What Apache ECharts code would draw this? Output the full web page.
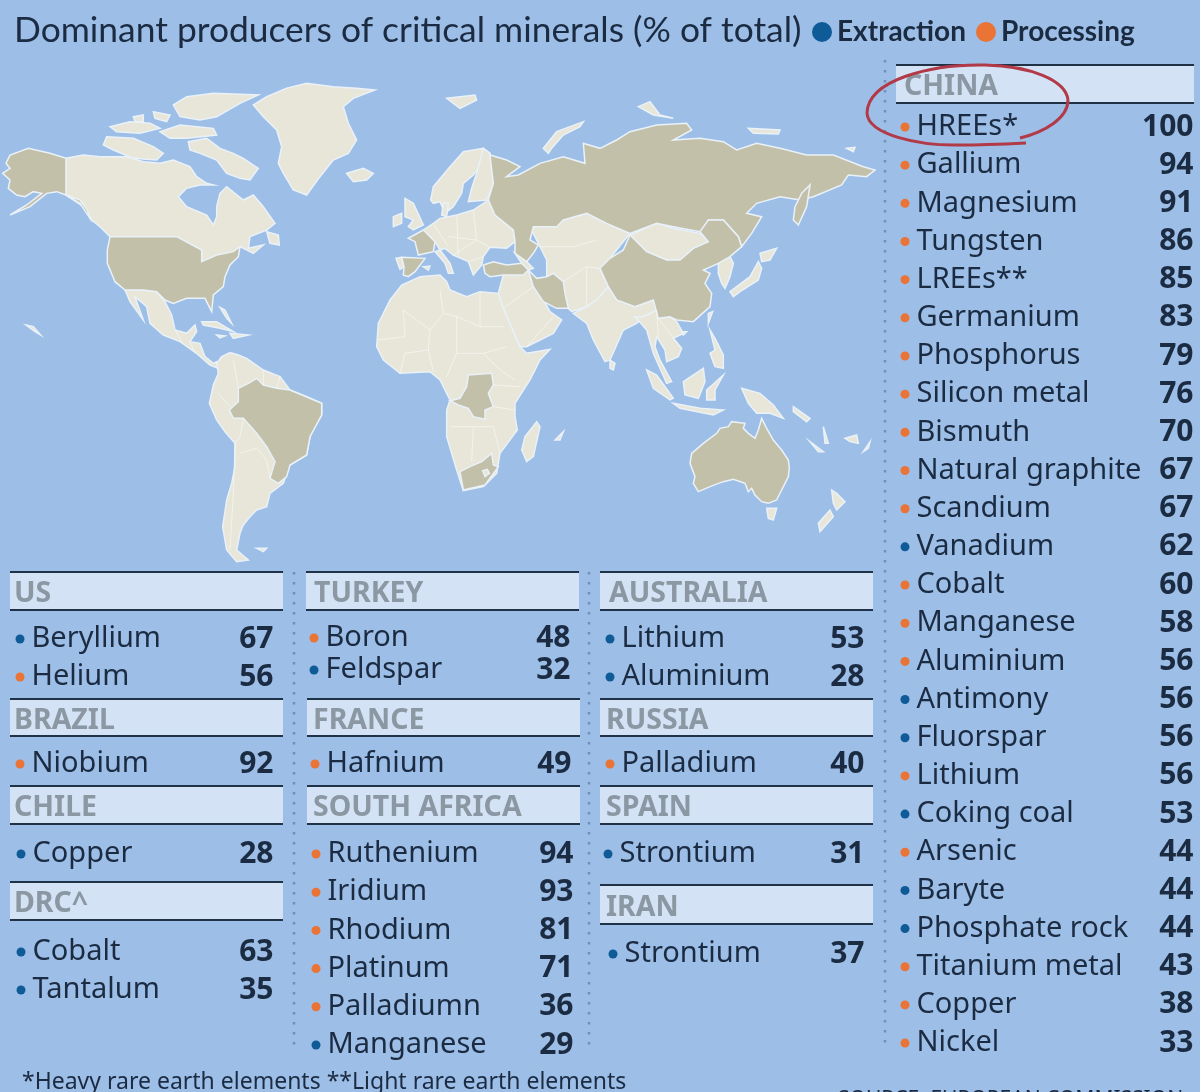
<!DOCTYPE html>
<html>
<head>
<meta charset="utf-8">
<title>Dominant producers of critical minerals</title>
<style>
html,body{margin:0;padding:0;background:#9dbee6;}
#chart{width:1200px;height:1092px;}
</style>
<script src="https://cdn.jsdelivr.net/npm/echarts@6/dist/echarts.min.js"></script>
</head>
<body>
<div id="chart"></div>
<script>
// table data: E = extraction, P = processing
var chinaMinerals=['HREEs*','Gallium','Magnesium','Tungsten','LREEs**','Germanium','Phosphorus','Silicon metal','Bismuth','Natural graphite','Scandium','Vanadium','Cobalt','Manganese','Aluminium','Antimony','Fluorspar','Lithium','Coking coal','Arsenic','Baryte','Phosphate rock','Titanium metal','Copper','Nickel'];
var chinaValues=[100,94,91,86,85,83,79,76,70,67,67,62,60,58,56,56,56,56,53,44,44,44,43,38,33];
var chinaStages=['P','P','P','P','P','P','P','P','P','P','P','E','P','P','P','E','E','P','E','P','E','E','P','P','P'];
var usMinerals=['Beryllium','Helium'];
var usValues=[67,56];
var usStages=['E','P'];
var brazilMinerals=['Niobium'];
var brazilValues=[92];
var brazilStages=['P'];
var chileMinerals=['Copper'];
var chileValues=[28];
var chileStages=['E'];
var drcMinerals=['Cobalt','Tantalum'];
var drcValues=[63,35];
var drcStages=['E','E'];
var turkeyMinerals=['Boron','Feldspar'];
var turkeyValues=[48,32];
var turkeyStages=['P','E'];
var franceMinerals=['Hafnium'];
var franceValues=[49];
var franceStages=['P'];
var southAfricaMinerals=['Ruthenium','Iridium','Rhodium','Platinum','Palladiumn','Manganese'];
var southAfricaValues=[94,93,81,71,36,29];
var southAfricaStages=['P','P','P','P','P','E'];
var australiaMinerals=['Lithium','Aluminium'];
var australiaValues=[53,28];
var australiaStages=['E','E'];
var russiaMinerals=['Palladium'];
var russiaValues=[40];
var russiaStages=['P'];
var spainMinerals=['Strontium'];
var spainValues=[31];
var spainStages=['E'];
var iranMinerals=['Strontium'];
var iranValues=[37];
var iranStages=['E'];

// map outlines (map units, 3 per pixel)
var producerLand={
    'Alaska':[[198,295],[150,280],[85,265],[30,285],[18,310],[30,325],[8,340],[30,360],[25,385],[50,405],[75,410],[100,395],[125,400],[80,435],[30,465],[90,440],[140,400],[170,395],[198,405],[240,430],[270,475],[262,450],[240,420],[198,405]],
    'United States':[[330,530],[530,530],[605,570],[605,605],[650,585],[700,575],[720,560],[715,590],[690,615],[675,650],[670,680],[640,705],[635,755],[615,715],[560,715],[520,730],[495,720],[470,695],[430,690],[375,690],[345,665],[322,610],[322,570]],
    'Brazil':[[715,985],[745,970],[770,955],[790,975],[830,985],[870,990],[965,1030],[965,1065],[930,1130],[920,1185],[870,1215],[860,1250],[835,1270],[810,1255],[825,1205],[800,1160],[770,1120],[730,1075],[700,1075],[688,1050],[715,1025]],
    'France':[[1270,510],[1305,545],[1300,575],[1255,585],[1245,545],[1225,535]],
    'Spain':[[1205,592],[1275,595],[1245,635],[1225,650],[1210,645],[1212,620]],
    'DRC':[[1405,945],[1475,940],[1480,975],[1465,1000],[1480,1040],[1455,1050],[1455,1078],[1420,1070],[1405,1045],[1375,1035],[1350,1022],[1380,1015],[1400,980]],
    'South Africa':[[1380,1235],[1410,1220],[1445,1205],[1475,1180],[1480,1215],[1495,1220],[1455,1275],[1390,1290]],
    'Turkey':[[1450,615],[1480,605],[1520,615],[1565,610],[1585,630],[1570,645],[1510,645],[1470,650],[1455,640]],
    'Russia':[[1470,285],[1520,300],[1560,320],[1520,350],[1555,345],[1620,310],[1690,290],[1755,310],[1750,250],[1800,265],[1850,240],[1890,215],[1970,195],[2060,190],[2075,210],[2020,240],[2100,235],[2170,245],[2210,270],[2270,250],[2340,265],[2420,285],[2500,285],[2590,320],[2625,330],[2600,350],[2545,345],[2525,375],[2440,410],[2400,420],[2340,410],[2270,430],[2240,460],[2285,470],[2255,520],[2225,560],[2215,530],[2170,480],[2125,480],[2120,520],[2100,515],[2020,500],[1970,490],[1890,520],[1820,490],[1760,460],[1690,480],[1670,500],[1600,500],[1590,540],[1615,555],[1600,580],[1580,605],[1545,580],[1545,545],[1540,510],[1485,465],[1465,420],[1480,370]],
    'Sakhalin':[[2405,400],[2430,375],[2420,440],[2395,495],[2380,480],[2385,440]],
    'Iran':[[1585,630],[1610,655],[1640,650],[1660,640],[1690,665],[1695,700],[1705,745],[1670,745],[1630,725],[1600,680]],
    'China':[[1890,525],[1940,575],[2000,600],[2040,600],[2080,565],[2125,545],[2100,515],[2125,480],[2170,480],[2215,530],[2225,560],[2190,590],[2155,610],[2110,630],[2130,640],[2115,670],[2135,700],[2130,740],[2080,785],[2030,780],[2010,770],[1975,775],[1960,720],[1905,740],[1850,720],[1825,680],[1800,625],[1830,595],[1870,570]],
    'Australia':[[2075,1180],[2110,1150],[2150,1120],[2160,1105],[2185,1100],[2195,1085],[2235,1090],[2230,1105],[2245,1120],[2265,1135],[2275,1110],[2285,1075],[2300,1105],[2320,1140],[2345,1170],[2365,1200],[2368,1225],[2365,1250],[2345,1290],[2330,1320],[2305,1330],[2285,1325],[2265,1305],[2255,1285],[2245,1295],[2235,1270],[2200,1258],[2170,1265],[2130,1280],[2095,1295],[2080,1270],[2085,1250],[2070,1210]]
};
var otherLand={
    'Canada':[[198,295],[250,285],[300,290],[380,290],[430,305],[480,310],[520,300],[570,320],[590,350],[620,370],[640,375],[600,375],[560,385],[535,410],[560,440],[620,465],[640,495],[650,470],[650,440],[660,400],[680,380],[730,420],[760,405],[790,440],[825,490],[800,510],[750,530],[745,565],[790,555],[760,580],[720,560],[690,590],[650,585],[605,605],[605,570],[530,530],[330,530],[300,500],[275,480],[250,440],[198,405]],
    'Baffin':[[565,245],[620,235],[660,265],[700,280],[730,295],[775,325],[750,360],[720,355],[680,340],[650,300],[600,280],[570,270]],
    'Victoria':[[320,230],[400,235],[460,260],[490,280],[470,300],[400,295],[340,270],[310,255]],
    'Ellesmere':[[520,135],[560,110],[640,100],[775,105],[720,130],[650,170],[600,180],[540,170]],
    'Banks':[[330,200],[390,185],[450,190],[480,205],[420,220],[350,215]],
    'Devon':[[480,215],[540,195],[640,205],[650,225],[560,235],[510,235]],
    'Melville':[[400,170],[430,165],[430,185],[405,185]],
    'Parry':[[460,155],[510,165],[500,185],[465,175]],
    'Newfoundland':[[800,515],[835,525],[838,555],[810,550]],
    'Greenland':[[760,135],[800,110],[860,85],[920,70],[1000,80],[1070,85],[1125,90],[1060,115],[1030,140],[1045,190],[1070,240],[1045,280],[1000,300],[960,350],[920,405],[880,390],[850,340],[835,310],[845,260],[830,210],[790,170]],
    'Iceland':[[1040,340],[1090,325],[1120,340],[1100,360],[1060,365]],
    'Mexico':[[375,690],[430,690],[470,695],[495,725],[515,765],[525,810],[560,820],[585,795],[590,815],[570,845],[600,850],[615,890],[640,910],[650,905],[655,925],[630,915],[590,880],[540,845],[490,825],[450,790],[440,740],[405,710],[430,780],[390,725]],
    'Cuba':[[605,785],[650,785],[700,815],[660,805],[610,795]],
    'Hispaniola':[[690,820],[745,825],[700,835]],
    'Jamaica':[[650,825],[675,828],[660,834]],
    'Bahamas':[[660,742],[675,750],[695,790],[680,775]],
    'Hawaii':[[78,795],[100,800],[122,825],[105,815]],
    'South America':[[650,910],[665,890],[690,878],[715,885],[740,895],[790,930],[840,950],[870,990],[920,1010],[965,1030],[965,1065],[945,1100],[930,1130],[920,1185],[870,1215],[850,1270],[810,1300],[800,1340],[770,1350],[750,1370],[730,1395],[720,1420],[710,1470],[745,1500],[710,1505],[680,1470],[668,1400],[680,1320],[695,1270],[705,1220],[705,1150],[675,1115],[650,1080],[628,1030],[640,975],[655,940]],
    'Falklands':[[770,1465],[800,1465],[790,1475]],
    'Africa':[[1170,720],[1205,675],[1260,650],[1320,645],[1340,665],[1350,690],[1400,710],[1440,695],[1495,700],[1510,740],[1560,860],[1580,880],[1650,868],[1620,900],[1590,960],[1545,1030],[1545,1070],[1552,1110],[1500,1180],[1490,1240],[1450,1280],[1390,1292],[1370,1230],[1340,1130],[1340,1050],[1350,1020],[1340,1000],[1320,960],[1290,935],[1200,940],[1150,900],[1130,860],[1135,790]],
    'Madagascar':[[1610,1085],[1620,1100],[1600,1190],[1580,1205],[1565,1170],[1575,1130]],
    'Portugal':[[1188,595],[1205,592],[1212,620],[1200,628]],
    'Britain':[[1215,415],[1240,430],[1270,495],[1240,510],[1225,500],[1240,480],[1215,470]],
    'Ireland':[[1180,470],[1205,460],[1205,490],[1180,500]],
    'Scandinavia':[[1292,420],[1300,380],[1350,320],[1390,275],[1450,265],[1470,280],[1420,345],[1390,370],[1385,400],[1360,440],[1335,460],[1320,425],[1300,430]],
    'Finland':[[1450,265],[1470,280],[1480,375],[1460,420],[1405,425],[1415,385],[1430,340]],
    'Denmark':[[1330,430],[1345,430],[1340,470],[1325,465]],
    'Europe':[[1270,510],[1300,490],[1320,475],[1370,465],[1420,450],[1465,420],[1485,465],[1540,510],[1545,545],[1520,565],[1470,562],[1450,590],[1445,615],[1420,645],[1405,605],[1360,585],[1335,565],[1320,570],[1305,545]],
    'Italy':[[1305,575],[1320,570],[1350,610],[1360,640],[1345,640],[1335,610]],
    'Sardinia':[[1270,620],[1290,618],[1285,630]],
    'Caucasus':[[1545,580],[1580,605],[1600,625],[1585,630],[1565,610]],
    'Central Asia':[[1592,505],[1690,480],[1760,460],[1820,490],[1890,520],[1830,595],[1800,625],[1825,680],[1790,720],[1760,740],[1715,755],[1705,745],[1695,700],[1690,665],[1660,640],[1640,650],[1640,600],[1620,560]],
    'Mongolia':[[1890,525],[1970,490],[2020,505],[2100,520],[2125,545],[2080,565],[2040,600],[2000,600],[1940,575]],
    'Arabia':[[1510,645],[1585,630],[1600,680],[1630,720],[1650,755],[1685,780],[1660,820],[1580,860],[1560,860],[1510,745],[1495,700]],
    'India':[[1760,740],[1790,720],[1825,680],[1850,720],[1905,740],[1960,720],[1970,750],[1930,770],[1910,790],[1870,810],[1830,900],[1815,905],[1780,840],[1760,790],[1720,760]],
    'Sri Lanka':[[1830,900],[1845,910],[1840,930],[1830,925]],
    'Indochina':[[1905,770],[1930,770],[1970,750],[1975,775],[2010,770],[2030,785],[2050,820],[2020,835],[2045,865],[2035,890],[2000,905],[1995,870],[1970,830],[1965,860],[1980,900],[2015,965],[2000,970],[1960,880],[1940,810]],
    'Korea':[[2155,610],[2190,590],[2200,610],[2190,650],[2175,685],[2165,670],[2155,640]],
    'Honshu':[[2190,695],[2250,650],[2275,605],[2285,625],[2275,660],[2220,695],[2200,710]],
    'Hokkaido':[[2280,580],[2330,565],[2310,600],[2285,605]],
    'Taiwan':[[2125,760],[2138,755],[2125,790]],
    'Hainan':[[2045,815],[2060,815],[2050,825]],
    'Philippines':[[2130,810],[2145,835],[2170,885],[2170,925],[2145,920],[2130,880],[2145,870]],
    'Borneo':[[2050,965],[2110,925],[2115,965],[2095,1015],[2055,1005]],
    'Sumatra':[[1940,930],[1970,945],[2020,1015],[2010,1020],[1960,985]],
    'Java':[[2020,1030],[2100,1045],[2170,1050],[2140,1065],[2040,1045]],
    'Sulawesi':[[2120,990],[2170,945],[2145,990],[2145,1020],[2120,1020]],
    'New Guinea':[[2225,985],[2280,1000],[2320,1035],[2350,1075],[2310,1060],[2270,1060],[2245,1030]],
    'Solomon':[[2380,1040],[2430,1075],[2420,1085],[2380,1055]],
    'Vanuatu':[[2470,1100],[2485,1150],[2475,1150]],
    'New Caledonia':[[2430,1145],[2470,1175],[2455,1175]],
    'Fiji':[[2535,1135],[2570,1125],[2575,1150],[2550,1145]],
    'Tonga':[[2590,1175],[2610,1145],[2605,1165]],
    'Mauritius':[[1665,1140],[1690,1115],[1680,1140]],
    'Tasmania':[[2300,1345],[2330,1345],[2320,1380],[2305,1375]],
    'NZ North':[[2495,1290],[2510,1300],[2535,1325],[2510,1350],[2500,1330]],
    'NZ South':[[2490,1350],[2500,1370],[2460,1415],[2455,1390]],
    'Novaya Zemlya':[[1630,265],[1670,215],[1750,185],[1740,200],[1690,225],[1655,265],[1645,280]],
    'Svalbard':[[1340,115],[1425,105],[1430,120],[1380,145]],
    'Severnaya':[[1915,140],[1950,125],[1980,165],[2020,175],[1960,165]],
    'New Siberian':[[2245,205],[2340,210],[2335,222],[2260,220]],
    'Wrangel':[[2540,265],[2565,262],[2560,275]]
};
var enclaveLand={
    'Lesotho':[[1448,1232],[1462,1228],[1468,1240],[1455,1250]]
};
var borderLines=[
    [[655,1000],[690,1040]],[[730,1075],[720,1130],[705,1150]],[[705,1150],[700,1300],[690,1470]],[[720,1180],[770,1165],[800,1200],[810,1255]],[[790,975],[790,930]],[[830,985],[840,950]],[[700,900],[715,985]],
    [[525,810],[545,845]],[[570,845],[585,880]],
    [[1210,750],[1290,810],[1330,760],[1320,690]],[[1210,750],[1215,830],[1135,840]],[[1290,810],[1285,870],[1215,880],[1200,940]],[[1285,870],[1300,935]],[[1440,695],[1440,800]],[[1370,770],[1370,880],[1340,950]],[[1330,760],[1370,770],[1440,800],[1510,800]],[[1370,880],[1450,880],[1520,860]],[[1450,880],[1500,930],[1545,960]],[[1480,975],[1560,980]],[[1480,1040],[1545,1050]],[[1350,1100],[1480,1100]],[[1420,1100],[1415,1205]],[[1480,1100],[1500,1180]],
    [[1300,490],[1345,560]],[[1370,465],[1375,585]],[[1420,450],[1430,540],[1470,562]],[[1345,530],[1430,540]],[[1405,605],[1450,590]],[[1360,585],[1430,540]],
    [[1690,665],[1760,620],[1800,625]],[[1620,560],[1720,560],[1790,540]],[[1760,620],[1760,740]],[[1510,745],[1600,680]],[[1580,860],[1660,770]],
    [[1970,750],[1975,830]],[[1975,775],[2040,860]]
];
var producerNames=Object.keys(producerLand);

var STAGE_NAME={E:'Extraction',P:'Processing'};
var STAGE_COLOR={E:'#0f5b98',P:'#ea7336'};
var TEXT_FONT='"Noto Sans"';
var TITLE_FONT='Lato';

// where each panel sits on the page
var panels=[
    {name:'US',minerals:usMinerals,values:usValues,stages:usStages,band:[10,572,283,610],head:14,dot:20,right:274,first:639,pitch:38},
    {name:'BRAZIL',minerals:brazilMinerals,values:brazilValues,stages:brazilStages,band:[10,699,283,736],head:14,dot:20,right:274,first:764,pitch:38},
    {name:'CHILE',minerals:chileMinerals,values:chileValues,stages:chileStages,band:[10,786,283,824],head:14,dot:21,right:274,first:854,pitch:38},
    {name:'DRC^',minerals:drcMinerals,values:drcValues,stages:drcStages,band:[10,882,283,920],head:14,dot:21,right:274,first:952,pitch:38},
    {name:'TURKEY',minerals:turkeyMinerals,values:turkeyValues,stages:turkeyStages,band:[306,572,579,610],head:314,dot:314,right:571,first:638,pitch:32},
    {name:'FRANCE',minerals:franceMinerals,values:franceValues,stages:franceStages,band:[307,699,580,736],head:313,dot:315,right:572,first:764,pitch:38},
    {name:'SOUTH AFRICA',minerals:southAfricaMinerals,values:southAfricaValues,stages:southAfricaStages,band:[307,786,580,824],head:313,dot:316,right:574,first:854,pitch:38.2},
    {name:'AUSTRALIA',minerals:australiaMinerals,values:australiaValues,stages:australiaStages,band:[600,572,873,610],head:609,dot:610,right:865,first:639,pitch:38},
    {name:'RUSSIA',minerals:russiaMinerals,values:russiaValues,stages:russiaStages,band:[600,699,873,736],head:606,dot:610,right:865,first:764,pitch:38},
    {name:'SPAIN',minerals:spainMinerals,values:spainValues,stages:spainStages,band:[600,786,873,824],head:606,dot:608,right:865,first:854,pitch:38},
    {name:'IRAN',minerals:iranMinerals,values:iranValues,stages:iranStages,band:[600,885,873,924],head:606,dot:613,right:865,first:954,pitch:38},
    {name:'CHINA',minerals:chinaMinerals,values:chinaValues,stages:chinaStages,band:[896,65,1194,103],head:904,dot:905,right:1194,first:127,pitch:38.17}
];

// red hand drawn ring round China's first row
var ringCurves=[
    [1020,138,1045,132,1068,118,1068,100],
    [1068,100,1066,80,1030,66,985,65],
    [985,65,930,64,868,80,867,113],
    [867,113,868,135,920,146,960,145],
    [960,145,980,145,1005,144,1026,143]
];

//把轮廓转成geojson
function buildGeoJson(){
    var features=[];
    var groups=[otherLand,producerLand,enclaveLand];
    groups.forEach(function(group){
        Object.keys(group).forEach(function(name){
            features.push({type:'Feature',properties:{name:name},geometry:{type:'Polygon',coordinates:[group[name].concat([group[name][0]])]}});
        });
    });
    return {type:'FeatureCollection',features:features};
}

var mychart=echarts.init(document.getElementById('chart'));
echarts.registerMap('world',buildGeoJson());

var grids=[],xAxes=[],yAxes=[],series=[],graphics=[];

//地图上的国界线
series.push({
    type:'lines',
    coordinateSystem:'geo',
    geoIndex:0,
    polyline:true,
    silent:true,
    z:3,
    lineStyle:{color:'#f3f4ee',width:1,opacity:0.9},
    data:borderLines.map(function(line){return {coords:line};})
});

panels.forEach(function(panel,index){
    var band=panel.band;
    grids.push({left:panel.dot,width:panel.right-panel.dot,top:panel.first-panel.pitch/2,height:panel.pitch*panel.minerals.length,show:false});
    xAxes.push({type:'value',gridIndex:index,min:0,max:1,show:false});
    yAxes.push({type:'category',gridIndex:index,inverse:true,show:false,data:panel.minerals});

    ['E','P'].forEach(function(stage){
        var rows=[];
        panel.minerals.forEach(function(mineral,i){
            if(panel.stages[i]==stage){
                rows.push({value:[0,mineral],name:mineral});
            }
        });
        series.push({
            name:STAGE_NAME[stage],
            type:'scatter',
            xAxisIndex:index,
            yAxisIndex:index,
            symbol:'circle',
            symbolSize:9,
            silent:true,
            itemStyle:{color:STAGE_COLOR[stage],opacity:1},
            label:{show:true,position:'right',distance:7,formatter:'{b}',color:'#1b2b42',fontFamily:TEXT_FONT,fontSize:29},
            data:rows
        });
    });
    series.push({
        name:panel.name+' share',
        type:'scatter',
        xAxisIndex:index,
        yAxisIndex:index,
        symbolSize:1,
        silent:true,
        itemStyle:{color:'transparent',opacity:1},
        label:{show:true,position:'left',distance:0,formatter:function(p){return p.data.value[2];},color:'#1b2b42',fontFamily:TEXT_FONT,fontWeight:'bold',fontSize:30},
        data:panel.values.map(function(value,i){return {value:[1,panel.minerals[i],value]};})
    });

    //标题色块和上下两条线
    graphics.push({type:'rect',shape:{x:band[0],y:band[1],width:band[2]-band[0],height:band[3]-band[1]},style:{fill:'#d3e2f4'}});
    graphics.push({type:'line',shape:{x1:band[0],y1:band[1],x2:band[2],y2:band[1]},style:{stroke:'#1f3247',lineWidth:2}});
    graphics.push({type:'line',shape:{x1:band[0],y1:band[3],x2:band[2],y2:band[3]},style:{stroke:'#1f3247',lineWidth:2}});
    graphics.push({type:'text',x:panel.head,y:(band[1]+band[3])/2+3,style:{text:panel.name,fill:'#8b97a2',font:'bold 28.5px '+TEXT_FONT,verticalAlign:'middle'}});
});

//虚线分隔
[[294,572,1050],[589,572,1050],[885,60,1045]].forEach(function(d){
    graphics.push({type:'line',shape:{x1:d[0],y1:d[1],x2:d[0],y2:d[2]},style:{stroke:'#6f90ba',lineWidth:2.5,lineDash:[2.5,7.5]}});
});

//手画的红圈
ringCurves.forEach(function(c){
    graphics.push({type:'bezierCurve',z:100,shape:{x1:c[0],y1:c[1],cpx1:c[2],cpy1:c[3],cpx2:c[4],cpy2:c[5],x2:c[6],y2:c[7]},style:{fill:null,stroke:'#b23a48',lineWidth:3}});
});

//脚注
graphics.push({type:'text',x:22,y:1082,style:{text:'*Heavy rare earth elements **Light rare earth elements',fill:'#1b2b42',font:'23px '+TEXT_FONT,verticalAlign:'middle'}});
graphics.push({type:'text',x:838,y:1100,style:{text:'SOURCE: EUROPEAN COMMISSION',fill:'#1b2b42',font:'21px '+TEXT_FONT,verticalAlign:'middle'}});

var option={
    animation:false,
    backgroundColor:'#9dbee6',
    title:{
        text:'Dominant producers of critical minerals (% of total)',
        left:9,
        top:8,
        textStyle:{color:'#1b2b42',fontFamily:TITLE_FONT,fontWeight:'normal',fontSize:35.4}
    },
    legend:{
        left:812,
        top:18,
        padding:0,
        itemWidth:20,
        itemHeight:20,
        itemGap:10,
        selectedMode:false,
        textStyle:{color:'#1b2b42',fontFamily:TITLE_FONT,fontWeight:'bold',fontSize:28},
        data:[{name:'Extraction',icon:'circle'},{name:'Processing',icon:'circle'}]
    },
    geo:{
        map:'world',
        left:0,
        top:0,
        width:1200,
        height:1092,
        roam:false,
        silent:true,
        boundingCoords:[[0,-180],[3600,3096]],
        projection:{
            project:function(p){return p;},
            unproject:function(p){return p;}
        },
        label:{show:false},
        itemStyle:{areaColor:'#e8e6d8',borderColor:'#e9f1f9',borderWidth:1.5},
        emphasis:{disabled:true},
        regions:producerNames.map(function(name){
            return {name:name,itemStyle:{areaColor:'#c3c0aa'}};
        })
    },
    grid:grids,
    xAxis:xAxes,
    yAxis:yAxes,
    series:series,
    graphic:{elements:graphics}
};
mychart.setOption(option);
</script>
</body>
</html>
